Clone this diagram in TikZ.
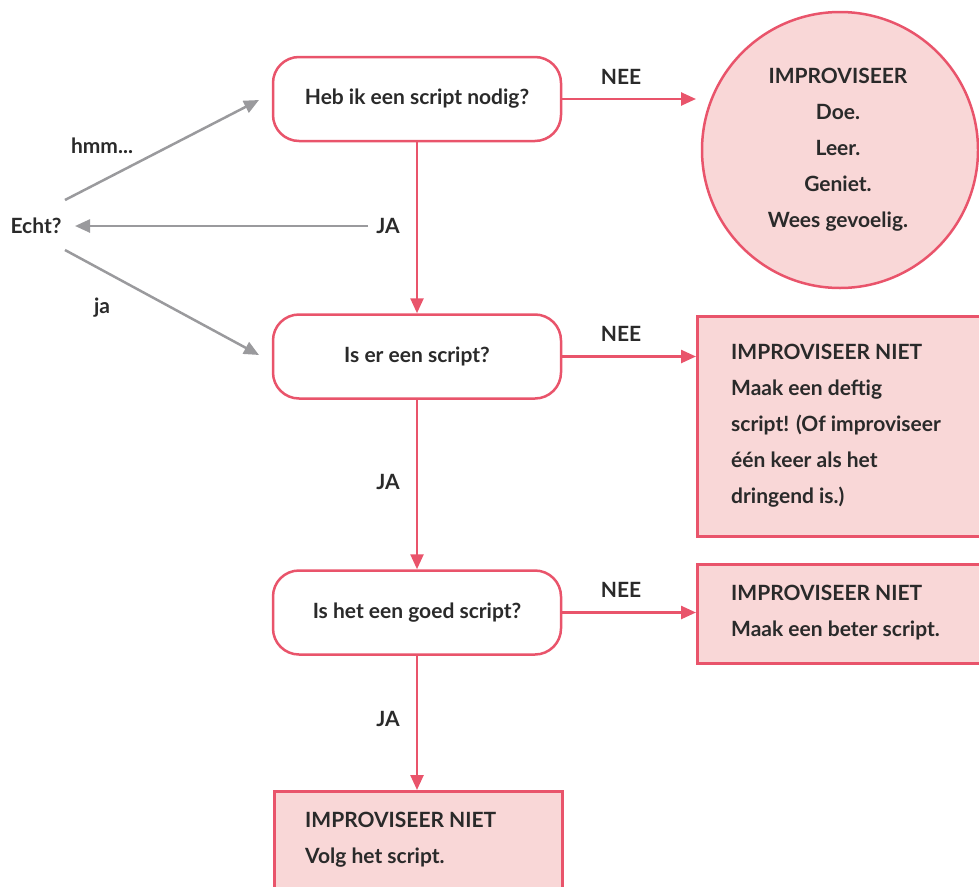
\documentclass[tikz,border=0pt]{standalone}
\usepackage{fontspec}
\setmainfont{Lato}
\usetikzlibrary{arrows.meta}
\definecolor{rd}{HTML}{E9546B}
\definecolor{pk}{HTML}{F9D7D7}
\definecolor{gr}{HTML}{9A9A9D}
\definecolor{tx}{HTML}{2A2A2A}
\begin{document}
\begin{tikzpicture}[x=1pt,y=-1pt,
  every node/.style={text=tx, font=\fontsize{21}{36}\selectfont\bfseries},
  qbox/.style={draw=rd, line width=2.5pt, rounded corners=26pt, fill=white, minimum width=288pt, minimum height=84pt, inner sep=0pt},
  obox/.style={draw=rd, line width=2.5pt, fill=pk, anchor=north west, inner sep=0pt},
  ttext/.style={anchor=west, align=left, inner sep=0pt},
  lbl/.style={inner sep=0pt},
  rarrow/.style={draw=rd, line width=2.5pt, -{Triangle[length=15pt,width=13pt]}},
  garrow/.style={draw=gr, line width=2.5pt, -{Triangle[length=15pt,width=13pt]}}
]
\useasboundingbox (0,0) rectangle (979,886);
\clip (0,0) rectangle (979,886);

% question boxes
\node[qbox] (q1) at (417,99) {Heb ik een script nodig?};
\node[qbox] (q2) at (417,356.5) {Is er een script?};
\node[qbox] (q3) at (417,612.5) {Is het een goed script?};

% outcome circle
\node[circle, draw=rd, line width=2.5pt, fill=pk, minimum size=276pt, inner sep=0pt] (c1) at (840,150) {};
\node[align=center, inner sep=0pt] (c1t) at (838,150) {IMPROVISEER\\Doe.\\Leer.\\Geniet.\\Wees gevoelig.};

% outcome boxes
\node[obox, minimum width=300pt, minimum height=220pt] (o2) at (696,315) {};
\node[ttext] (o2t) at (731,426) {IMPROVISEER NIET\\Maak een deftig\\script! (Of improviseer\\één keer als het\\dringend is.)};
\node[obox, minimum width=300pt, minimum height=99pt] (o3) at (696,563) {};
\node[ttext] (o3t) at (731,613) {IMPROVISEER NIET\\Maak een beter script.};
\node[obox, minimum width=288pt, minimum height=120pt] (o4) at (273,790) {};
\node[ttext] (o4t) at (305,840) {IMPROVISEER NIET\\Volg het script.};

% red connectors
\coordinate (a1) at (696,99);
\draw[rarrow] (q1.east) -- (a1);
\draw[rarrow] (q2.east) -- (q2.east -| o2.west);
\draw[rarrow] (q3.east) -- (q3.east -| o3.west);
\draw[rarrow] (q1.south) -- (q2.north);
\draw[rarrow] (q2.south) -- (q3.north);
\draw[rarrow] (q3.south) -- (q3.south |- o4.north);

% labels
\node[lbl] (n1) at (621,77) {NEE};
\node[lbl] (n2) at (621,334) {NEE};
\node[lbl] (n3) at (621,590) {NEE};
\node[lbl] (j2) at (388,482) {JA};
\node[lbl] (j3) at (388,719) {JA};
\node[lbl] (j1) at (388,226) {JA};
\node[lbl] (echt) at (36,226) {Echt?};
\node[lbl] (hmm) at (102,146) {hmm...};
\node[lbl] (ja) at (102,308) {ja};

% gray connectors
\coordinate (g1s) at (65,200);
\coordinate (g1e) at (259,100);
\coordinate (g2s) at (65,250);
\coordinate (g2e) at (259,355);
\coordinate (g3s) at (368,226);
\coordinate (g3e) at (75,226);
\draw[garrow] (g1s) -- (g1e);
\draw[garrow] (g2s) -- (g2e);
\draw[garrow] (g3s) -- (g3e);
\end{tikzpicture}
\end{document}
